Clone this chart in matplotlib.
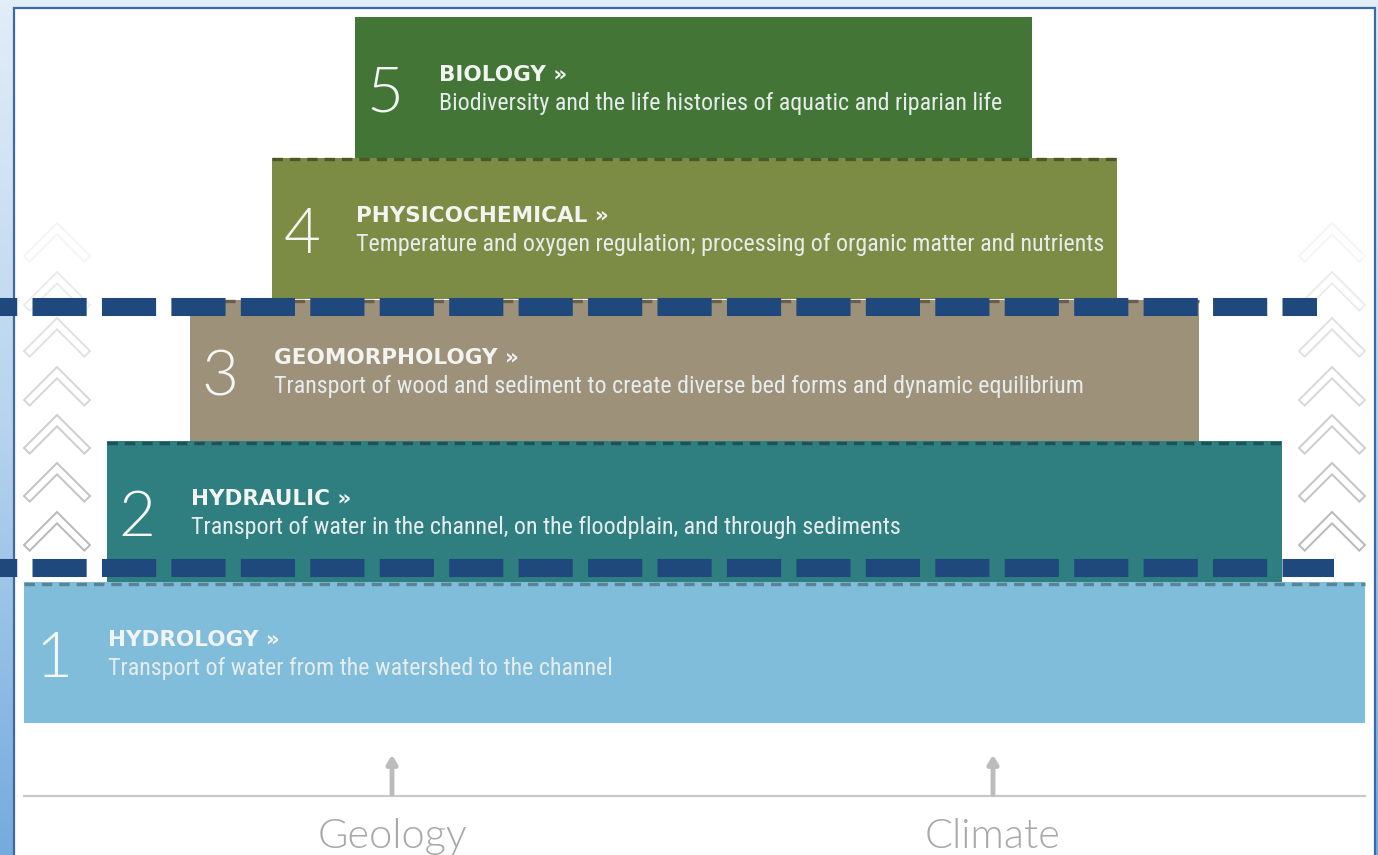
import numpy as np
import matplotlib.pyplot as plt
from matplotlib.patches import Rectangle, Polygon
from matplotlib.colors import LinearSegmentedColormap
from matplotlib import font_manager

plt.rcParams['lines.scale_dashes'] = False

# --- contenu du schéma (niveau 1 en bas, niveau 5 en haut) ---
levels = ['1', '2', '3', '4', '5']
names = ['HYDROLOGY', 'HYDRAULIC', 'GEOMORPHOLOGY', 'PHYSICOCHEMICAL', 'BIOLOGY']
descriptions = [
    'Transport of water from the watershed to the channel',
    'Transport of water in the channel, on the floodplain, and through sediments',
    'Transport of wood and sediment to create diverse bed forms and dynamic equilibrium',
    'Temperature and oxygen regulation; processing of organic matter and nutrients',
    'Biodiversity and the life histories of aquatic and riparian life',
]
box_colors = ['#7fbdda', '#2f7e80', '#9d917a', '#7d8c45', '#427536']
edge_colors = ['#5a8496', '#1c5354', '#675e4b', '#4c5728', '#2c5024']
box_left = [24, 107, 190, 272, 355]
box_right = [1365, 1282, 1199, 1117, 1032]
box_top = [582, 441, 300, 158, 17]
box_h = 141

drivers = ['Geology', 'Climate']
driver_x = [392, 993]

dash_y = [307, 568]
dash_end = [1317, 1334]

chevron_tops = [223, 272, 318, 367, 415, 463, 512]
chevron_x = [57, 1332]

# police condensée si disponible
installed = {f.name for f in font_manager.fontManager.ttflist}
desc_family = [f for f in ['Roboto Condensed', 'Liberation Sans Narrow',
                           'Open Sans Condensed', 'Liberation Sans'] if f in installed]
desc_family.append('DejaVu Sans')
condensed = desc_family[0] in ('Roboto Condensed', 'Liberation Sans Narrow', 'Open Sans Condensed')
desc_size = 17.3 if condensed else 14.6

W, H = 1378, 855
fig = plt.figure(figsize=(W / 100, H / 100), dpi=100)
ax = fig.add_axes([0, 0, 1, 1])
ax.set_xlim(0, W)
ax.set_ylim(H, 0)
ax.axis('off')

# fond dégradé bleu + panneau blanc
grad = np.linspace(0, 1, 256).reshape(-1, 1)
cmap = LinearSegmentedColormap.from_list('bg', ['#e2edf8', '#b7d3ee', '#74abdd'])
ax.imshow(grad, cmap=cmap, extent=[0, W, H, 0], aspect='auto', zorder=0)
ax.add_patch(Rectangle((14, 8), 1361, 860, facecolor='white',
                       edgecolor='#3f69a6', linewidth=1.6, zorder=1))

# chevrons
for cx in chevron_x:
    n = len(chevron_tops)
    for i, y0 in enumerate(chevron_tops):
        w, p = 33, 8
        d = p / np.sqrt(2)
        pts = [(cx - w, y0 + w), (cx, y0), (cx + w, y0 + w),
               (cx + w - d, y0 + w + d), (cx, y0 + p * np.sqrt(2)),
               (cx - w + d, y0 + w + d)]
        a = 0.07 + 0.43 * i / (n - 1)
        ax.add_patch(Polygon(pts, closed=True, facecolor='none',
                             edgecolor=(0.45, 0.45, 0.45, a), linewidth=1.4, zorder=2))

# boîtes
for i in range(len(levels)):
    l, r, t = box_left[i], box_right[i], box_top[i]
    ax.add_patch(Rectangle((l, t), r - l, box_h, facecolor=box_colors[i],
                           edgecolor='none', zorder=3))
    if i < 4:
        ax.plot([l, r], [t + 1.5, t + 1.5], color=edge_colors[i], lw=2.4,
                dashes=(7.5, 5), zorder=4)
    ax.text(l + 30, t + 95, levels[i], color='#f4f6f4', fontsize=46,
            family='Lato', fontweight=300, ha='center', va='baseline', zorder=5)
    ax.text(l + 84, t + 64, names[i] + ' \u00bb', color='#f2f4f2', fontsize=15.5,
            family='DejaVu Sans', fontweight='bold', ha='left', va='baseline', zorder=5)
    ax.text(l + 84, t + 93, descriptions[i], color='#e6ecec', fontsize=desc_size,
            family=desc_family, ha='left', va='baseline', zorder=5)

# grandes lignes pointillées bleues
for y, xe in zip(dash_y, dash_end):
    ax.plot([0, xe], [y, y], color='#1f497d', lw=13,
            linestyle=(26.6, (39, 11)), dash_capstyle='butt', zorder=6)

# base : géologie et climat
ax.plot([24, 1365], [796, 796], color='#c9c9c9', lw=1.6, zorder=3)
for x, lab in zip(driver_x, drivers):
    ax.annotate('', xy=(x, 752), xytext=(x, 797),
                arrowprops=dict(arrowstyle='-|>,head_length=0.5,head_width=0.3',
                                color='#bcbcbc', lw=3.5), zorder=3)
    ax.text(x, 848, lab, color='#a8a8a8', fontsize=30, family='Lato',
            fontweight=300, ha='center', va='baseline', zorder=3)

fig.savefig('out.png', dpi=100)
